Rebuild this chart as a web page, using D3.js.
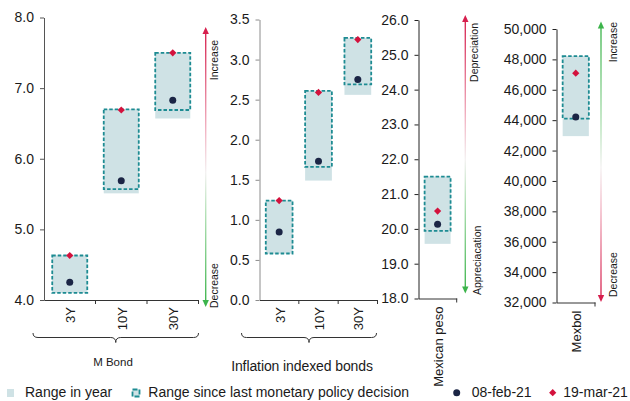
<!DOCTYPE html>
<html>
<head>
<meta charset="utf-8">
<script src="https://cdn.jsdelivr.net/npm/d3@7"></script>
<style>
  html, body { margin: 0; padding: 0; background: #fff; }
  svg { display: block; font-family: "Liberation Sans", Arial, sans-serif; }
</style>
</head>
<body>
<svg id="chart" width="630" height="401"></svg>
<script>
// ---- Data ----
// M Bond yields (%)
const bondCats = ["3Y", "10Y", "30Y"];
const bondYearLow = [4.10, 5.51, 6.57];
const bondYearHigh = [4.63, 6.70, 7.50];
const bondSinceLow = [4.10, 5.57, 6.69];
const bondSinceHigh = [4.63, 6.70, 7.50];
const bondFeb = [4.25, 5.69, 6.83];
const bondMar = [4.63, 6.69, 7.50];
const bondTicks = [4.0, 5.0, 6.0, 7.0, 8.0];

// Inflation indexed bonds (%)
const udiCats = ["3Y", "10Y", "30Y"];
const udiYearLow = [0.58, 1.49, 2.56];
const udiYearHigh = [1.24, 2.61, 3.27];
const udiSinceLow = [0.58, 1.66, 2.69];
const udiSinceHigh = [1.24, 2.61, 3.27];
const udiFeb = [0.85, 1.73, 2.75];
const udiMar = [1.24, 2.59, 3.25];
const udiTicks = [0.0, 0.5, 1.0, 1.5, 2.0, 2.5, 3.0, 3.5];

// Mexican peso (MXN per USD)
const pesoCats = ["Mexican peso"];
const pesoYearLow = [19.57];
const pesoYearHigh = [21.50];
const pesoSinceLow = [19.94];
const pesoSinceHigh = [21.50];
const pesoFeb = [20.13];
const pesoMar = [20.51];
const pesoTicks = [18, 19, 20, 21, 22, 23, 24, 25, 26];

// Mexbol index (points)
const mexbolCats = ["Mexbol"];
const mexbolYearLow = [42950];
const mexbolYearHigh = [48220];
const mexbolSinceLow = [44100];
const mexbolSinceHigh = [48220];
const mexbolFeb = [44210];
const mexbolMar = [47090];
const mexbolTicks = [32000, 34000, 36000, 38000, 40000, 42000, 44000, 46000, 48000, 50000];

const legendLabels = ["Range in year", "Range since last monetary policy decision", "08-feb-21", "19-mar-21"];

// ---- Styles ----
const C = {
  yearFill: "#cfe2e5",
  sinceStroke: "#1d8b92",
  feb: "#1b2545",
  mar: "#d3123d",
  text: "#1a1a1a",
  red: "#d61f4d",
  green: "#3cb44b"
};

const svg = d3.select("#chart");
const defs = svg.append("defs");

// One panel: y axis, category axis, boxes and markers
function panel(cfg) {
  const x = d3.scaleBand().domain(cfg.cats).range(cfg.xr);
  const y = d3.scaleLinear().domain(cfg.yd).range(cfg.yr);
  const g = svg.append("g");
  const baseY = cfg.yr[0];
  const bw = x.bandwidth() * 0.68;
  const cx = c => x(c) + x.bandwidth() / 2;

  // range in year
  g.selectAll("rect.year").data(cfg.cats).join("rect")
    .attr("x", c => cx(c) - bw / 2)
    .attr("width", bw)
    .attr("y", (c, i) => y(cfg.yearHigh[i]))
    .attr("height", (c, i) => y(cfg.yearLow[i]) - y(cfg.yearHigh[i]))
    .attr("fill", C.yearFill);

  // range since last monetary policy decision
  g.selectAll("rect.since").data(cfg.cats).join("rect")
    .attr("x", c => cx(c) - bw / 2)
    .attr("width", bw)
    .attr("y", (c, i) => y(cfg.sinceHigh[i]))
    .attr("height", (c, i) => y(cfg.sinceLow[i]) - y(cfg.sinceHigh[i]))
    .attr("fill", C.yearFill)
    .attr("stroke", C.sinceStroke)
    .attr("stroke-width", 1.8)
    .attr("stroke-dasharray", "3.5,2");

  // 08-feb-21 dots
  g.selectAll("circle.feb").data(cfg.cats).join("circle")
    .attr("cx", cx)
    .attr("cy", (c, i) => y(cfg.feb[i]))
    .attr("r", 3.5)
    .attr("fill", C.feb);

  // 19-mar-21 diamonds
  g.selectAll("path.mar").data(cfg.cats).join("path")
    .attr("d", (c, i) => {
      const px = cx(c), py = y(cfg.mar[i]), s = 3.6;
      return `M${px},${py - s}L${px + s},${py}L${px},${py + s}L${px - s},${py}Z`;
    })
    .attr("fill", C.mar);

  // y axis
  const ya = g.append("g")
    .attr("transform", `translate(${cfg.xr[0]},0)`)
    .call(d3.axisLeft(y).tickValues(cfg.ticks).tickFormat(d3.format(cfg.fmt))
      .tickSize(4).tickSizeOuter(0).tickPadding(6));
  ya.selectAll("path, line").attr("stroke", cfg.axisColor);
  ya.selectAll("text").attr("fill", C.text).style("font-size", "14px");

  // category axis
  const xa = g.append("g")
    .attr("transform", `translate(0,${baseY})`)
    .call(d3.axisBottom(x).tickSize(0).tickSizeOuter(0));
  xa.select(".domain").attr("stroke", "#333");
  xa.selectAll("text")
    .attr("transform", "rotate(-90)")
    .attr("x", -cfg.labelGap)
    .attr("y", 1)
    .attr("dy", "0.35em")
    .attr("text-anchor", "end")
    .attr("fill", C.text)
    .style("font-size", "13px");

  // tick marks at band boundaries
  const bounds = [];
  cfg.cats.forEach(c => { bounds.push(x(c) + x.bandwidth()); });
  g.selectAll("line.bt").data(bounds).join("line")
    .attr("x1", d => d).attr("x2", d => d)
    .attr("y1", baseY).attr("y2", baseY + 4)
    .attr("stroke", "#333");

  return { x, y, g };
}

// Vertical gradient arrow with a head at each end
let gradId = 0;
function arrow(xPos, y0, y1, topColor, bottomColor) {
  const id = "ag" + (gradId++);
  const lg = defs.append("linearGradient")
    .attr("id", id)
    .attr("gradientUnits", "userSpaceOnUse")
    .attr("x1", 0).attr("x2", 0).attr("y1", y0).attr("y2", y1);
  const topLight = topColor === C.red ? "#f2b9c7" : "#b6e2b9";
  const botLight = bottomColor === C.red ? "#f2b9c7" : "#b6e2b9";
  [[0, topColor], [0.38, topLight], [0.52, "#f4f2f2"], [0.66, botLight], [1, bottomColor]]
    .forEach(([o, c]) => lg.append("stop").attr("offset", o).attr("stop-color", c));
  svg.append("line")
    .attr("x1", xPos).attr("x2", xPos)
    .attr("y1", y0 + 5).attr("y2", y1 - 5)
    .attr("stroke", `url(#${id})`).attr("stroke-width", 1.4);
  svg.append("path")
    .attr("d", `M${xPos},${y0}L${xPos + 3.2},${y0 + 7}L${xPos - 3.2},${y0 + 7}Z`)
    .attr("fill", topColor);
  svg.append("path")
    .attr("d", `M${xPos},${y1}L${xPos + 3.2},${y1 - 7}L${xPos - 3.2},${y1 - 7}Z`)
    .attr("fill", bottomColor);
}

function vText(xPos, yPos, text, anchor, size) {
  svg.append("text")
    .attr("transform", `translate(${xPos},${yPos}) rotate(-90)`)
    .attr("text-anchor", anchor)
    .attr("fill", C.text)
    .style("font-size", size + "px")
    .text(text);
}

// Curly brace under a group of categories
function brace(x0, x1, yTop, yMid, yTip) {
  const m = (x0 + x1) / 2;
  svg.append("path")
    .attr("d", `M${x0},${yTop} Q${x0},${yMid} ${x0 + 5},${yMid} L${m - 5},${yMid} Q${m},${yMid} ${m},${yTip}` +
               ` Q${m},${yMid} ${m + 5},${yMid} L${x1 - 5},${yMid} Q${x1},${yMid} ${x1},${yTop}`)
    .attr("fill", "none").attr("stroke", "#333").attr("stroke-width", 1);
}

// ---- Panels ----
const p1 = panel({
  cats: bondCats, xr: [44, 198.5], yd: [4, 8], yr: [300, 17.5], ticks: bondTicks, fmt: ".1f",
  yearLow: bondYearLow, yearHigh: bondYearHigh, sinceLow: bondSinceLow, sinceHigh: bondSinceHigh,
  feb: bondFeb, mar: bondMar, axisColor: "#555", labelGap: 7
});
const p2 = panel({
  cats: udiCats, xr: [259.5, 377.5], yd: [0, 3.5], yr: [300, 19.5], ticks: udiTicks, fmt: ".1f",
  yearLow: udiYearLow, yearHigh: udiYearHigh, sinceLow: udiSinceLow, sinceHigh: udiSinceHigh,
  feb: udiFeb, mar: udiMar, axisColor: "#8c8c8c", labelGap: 7
});
const p3 = panel({
  cats: pesoCats, xr: [418.5, 456.7], yd: [18, 26], yr: [298.5, 20], ticks: pesoTicks, fmt: ".1f",
  yearLow: pesoYearLow, yearHigh: pesoYearHigh, sinceLow: pesoSinceLow, sinceHigh: pesoSinceHigh,
  feb: pesoFeb, mar: pesoMar, axisColor: "#222", labelGap: 8
});
const p4 = panel({
  cats: mexbolCats, xr: [556.5, 595], yd: [32000, 50000], yr: [302.5, 29], ticks: mexbolTicks, fmt: ",",
  yearLow: mexbolYearLow, yearHigh: mexbolYearHigh, sinceLow: mexbolSinceLow, sinceHigh: mexbolSinceHigh,
  feb: mexbolFeb, mar: mexbolMar, axisColor: "#222", labelGap: 8
});

// ---- Direction arrows ----
arrow(205.7, 27, 307, C.red, C.green);
vText(217.5, 40, "Increase", "end", 10.5);
vText(217.5, 308, "Decrease", "start", 10.5);

arrow(465.3, 15, 293.5, C.red, C.green);
vText(477.5, 23, "Depreciation", "end", 10.5);
vText(480.5, 295, "Appreciacation", "start", 10.5);

arrow(601, 21.5, 302, C.green, C.red);
vText(617.3, 22, "Increase", "end", 10.5);
vText(616.7, 297, "Decrease", "start", 10.5);

// ---- Group braces and titles ----
brace(p1.x.range()[0] - 11, p1.x.range()[1], 333, 337.5, 342.5);
brace(p2.x.range()[0] - 18, p2.x.range()[1] - 1, 333, 337.5, 342.5);

svg.append("text").attr("x", 113).attr("y", 366).attr("text-anchor", "middle")
  .attr("fill", C.text).style("font-size", "11.5px").text("M Bond");
svg.append("text").attr("x", 302).attr("y", 370.5).attr("text-anchor", "middle")
  .attr("fill", C.text).style("font-size", "14px").attr("letter-spacing", "-0.1").text("Inflation indexed bonds");

// ---- Legend ----
const lg = svg.append("g");
lg.append("rect").attr("x", 7).attr("y", 389).attr("width", 7).attr("height", 8).attr("fill", C.yearFill);
lg.append("text").attr("x", 25).attr("y", 397.3).attr("fill", C.text).style("font-size", "14px").text(legendLabels[0]);

lg.append("rect").attr("x", 132.5).attr("y", 389.5).attr("width", 7).attr("height", 7)
  .attr("fill", C.yearFill).attr("stroke", C.sinceStroke).attr("stroke-width", 1.8).attr("stroke-dasharray", "5,2");
lg.append("text").attr("x", 148.3).attr("y", 397.3).attr("fill", C.text).style("font-size", "14px").text(legendLabels[1]);

lg.append("circle").attr("cx", 456.7).attr("cy", 392.7).attr("r", 3.5).attr("fill", C.feb);
lg.append("text").attr("x", 471.7).attr("y", 397.3).attr("fill", C.text).style("font-size", "14px").text(legendLabels[2]);

lg.append("path").attr("d", "M552.7,389.1L556.3,392.7L552.7,396.3L549.1,392.7Z").attr("fill", C.mar);
lg.append("text").attr("x", 563.3).attr("y", 397.3).attr("fill", C.text).style("font-size", "14px").text(legendLabels[3]);
</script>
</body>
</html>
